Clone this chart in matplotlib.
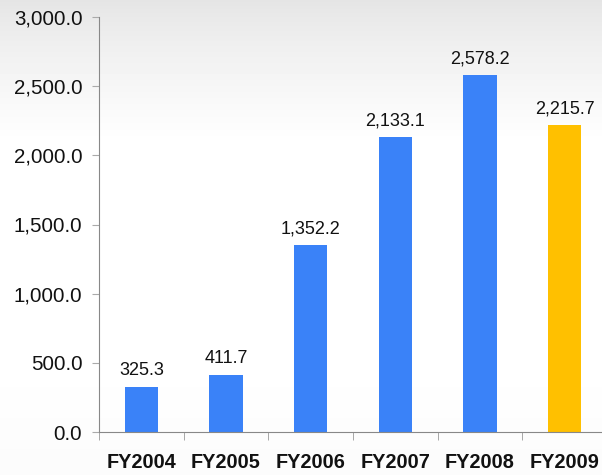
import numpy as np
import matplotlib
matplotlib.use("Agg")
import matplotlib.pyplot as plt

years = ["FY2004", "FY2005", "FY2006", "FY2007", "FY2008", "FY2009"]
values = [325.3, 411.7, 1352.2, 2133.1, 2578.2, 2215.7]
colors = ["#3a82f8"] * 5 + ["#ffc000"]

plt.rcParams['font.family'] = ['Liberation Sans', 'DejaVu Sans']

fig = plt.figure(figsize=(6.02, 4.75), dpi=100)

# background gradient: grey at top fading to white
bg = fig.add_axes([0, 0, 1, 1], zorder=-10)
rows = np.linspace(0, 1, 475)
shade = np.where(rows < 0.3, 0.895 + 0.105 * (rows / 0.3) ** 0.8, 1.0)
shade = np.minimum(shade, 1.0 - 0.015 * np.clip((rows - 0.75) / 0.25, 0, 1))
img = np.repeat(shade[:, None], 10, axis=1)
bg.imshow(img, cmap="gray", vmin=0, vmax=1, aspect="auto", extent=[0, 1, 0, 1])
bg.axis("off")

ax = fig.add_axes([99 / 602, 43 / 475, 508 / 602, 415 / 475])
ax.patch.set_alpha(0)

x = np.arange(len(years))
bars = ax.bar(x, values, width=0.39, color=colors, zorder=2)

for xi, v in zip(x, values):
    ax.text(xi, v + 55, f"{v:,.1f}", ha="center", va="bottom", fontsize=13, color="#111111")

ax.set_xlim(-0.5, len(years) - 0.5)
ax.set_ylim(0, 3000)
ax.set_yticks(np.arange(0, 3001, 500))
ax.set_yticklabels([f"{t:,.1f}" for t in np.arange(0, 3001, 500)], fontsize=14.8, color="#111111")

ax.set_xticks(x)
ax.set_xticklabels(years, fontsize=14.3, fontweight="bold", color="#111111")
ax.set_xticks(np.arange(-0.5, len(years), 1), minor=True)
ax.tick_params(axis="x", which="major", length=0, pad=15)
ax.tick_params(axis="x", which="minor", length=6, color="#999999", direction="out")
ax.tick_params(axis="y", length=5, color="#aaaaaa", direction="out", pad=7)

for s in ["top", "right"]:
    ax.spines[s].set_visible(False)
ax.spines["left"].set_color("#888888")
ax.spines["bottom"].set_color("#888888")

fig.savefig("out.png", dpi=100)
